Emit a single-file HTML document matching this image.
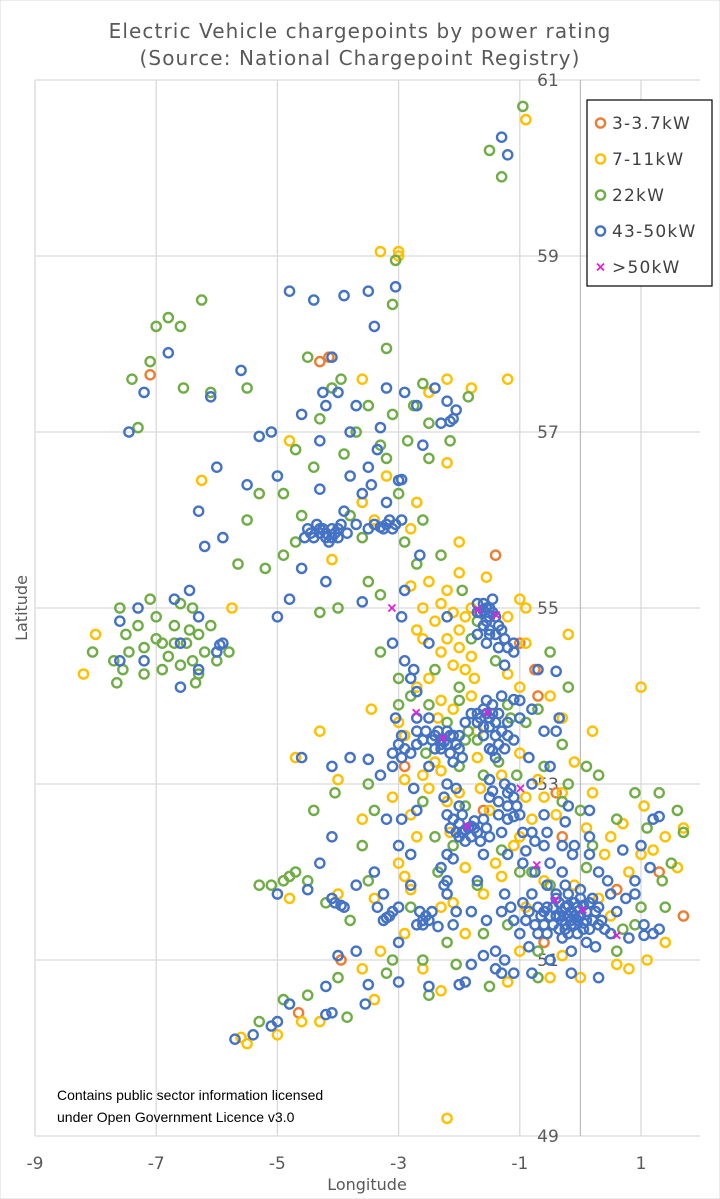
<!DOCTYPE html>
<html><head><meta charset="utf-8"><style>
html,body{margin:0;padding:0;background:#fff;}
svg{display:block;font-family:"DejaVu Sans","Liberation Sans",sans-serif;}
</style></head><body>
<svg id="chart" width="720" height="1199" viewBox="0 0 720 1199">
<rect x="0" y="0" width="720" height="1199" fill="#fff" stroke="#d9d9d9"/>
<text x="360" y="38" text-anchor="middle" font-size="20" letter-spacing="1.1" fill="#595959">Electric Vehicle chargepoints by power rating</text>
<text x="360" y="65" text-anchor="middle" font-size="20" letter-spacing="1.1" fill="#595959">(Source: National Chargepoint Registry)</text>
<g id="grid"></g>
<g id="marks"></g>
<text x="57" y="1100" font-size="14" fill="#000" font-family="Liberation Sans, sans-serif">Contains public sector information licensed</text>
<text x="57" y="1122" font-size="14" fill="#000" font-family="Liberation Sans, sans-serif">under Open Government Licence v3.0</text>
<text x="367" y="1190" text-anchor="middle" font-size="16" fill="#595959">Longitude</text>
<text x="0" y="0" transform="translate(27,608) rotate(-90)" text-anchor="middle" font-size="16" fill="#595959">Latitude</text>
<g>
<rect x="587" y="100" width="125" height="186" fill="#fff" stroke="#000" stroke-width="1.2"/>
<g id="legend"></g>
</g>
</svg>
<script>
const xTicks=[-9,-7,-5,-3,-1,1];
const yTicks=[61,59,57,55,53,51,49];
const seriesNames=["3-3.7kW","7-11kW","22kW","43-50kW",">50kW"];
const seriesColors=["#ED7D31","#FFC000","#70AD47","#4472C4","#E020E0"];
const orangePts=[[-4.15,57.85],[-7.1,57.65],[-1.4,55.6],[-0.75,54.3],[-1.6,52.7],[-0.4,52.9],[0.6,51.8],[1.7,51.5],[-0.6,51.2],[-4.65,50.4],[-3.95,51.0],[-2.9,53.2],[-0.2,51.3],[1.3,52.0],[-4.3,57.8],[-0.7,54.0],[-1.0,54.6],[-0.3,52.4]];
const yellowPts=[[-0.9,60.55],[-3.0,59.05],[-3.3,59.05],[-3.0,59.0],[-6.25,56.45],[-3.6,57.6],[-2.2,57.6],[-2.5,57.45],[-1.8,57.5],[-3.2,56.5],[-3.4,56.0],[-2.8,55.9],[-2.0,55.75],[-2.2,55.2],[-1.9,54.9],[-2.3,54.5],[-1.9,54.3],[-1.0,54.1],[-0.5,54.0],[-0.3,53.75],[0.2,53.6],[1.0,54.1],[-0.7,53.05],[-0.3,52.9],[0.1,52.5],[0.4,52.2],[1.0,52.2],[1.4,52.4],[1.6,52.05],[1.7,52.5],[1.4,51.2],[0.8,50.9],[0.0,50.8],[-0.5,50.8],[-1.2,50.75],[-2.3,50.65],[-3.4,50.55],[-4.3,50.3],[-5.0,50.15],[-5.5,50.05],[-5.6,50.12],[-4.6,50.3],[-3.6,50.9],[-2.9,51.3],[-2.3,51.6],[-2.8,51.8],[-3.4,51.7],[-4.0,51.75],[-4.8,51.7],[-3.0,52.1],[-2.7,52.4],[-3.1,52.85],[-2.9,53.05],[-2.2,52.8],[-1.5,52.7],[-0.8,52.6],[-1.0,52.4],[-1.9,52.05],[-2.6,53.1],[-1.7,53.3],[-3.0,53.7],[-2.7,54.1],[-3.45,53.85],[-4.3,53.6],[-5.75,55.0],[-8.2,54.25],[-8.0,54.7],[-2.2,49.2],[1.1,51.0],[0.5,51.5],[-0.6,51.9],[-1.6,51.75],[-0.9,51.6],[1.05,52.75],[-4.0,53.05],[-1.0,53.35],[-1.3,53.1],[-2.0,54.75],[-2.6,55.0],[-4.1,55.55],[-1.8,55.0],[-2.1,54.95],[-1.2,54.9],[-0.9,54.6],[-2.4,53.25],[-2.0,52.9],[-1.1,52.3],[0.3,51.7],[0.8,52.0],[-1.9,51.3],[-2.6,50.9],[-3.3,51.1],[-1.7,53.6],[-2.3,53.15],[-2.5,54.2],[-4.7,53.3],[-1.2,57.6],[-4.8,56.9],
[-2.4,54.85],[-2.2,54.65],[-2.0,54.55],[-1.8,54.45],[-2.6,54.65],[-2.3,55.05],[-1.75,54.2],[-2.1,54.35],[-1.55,55.35],[-2.0,55.4],[-2.5,55.3],[-2.7,54.75],[-2.8,55.25],[-2.3,53.95],[-2.1,53.85],[-1.8,54.0],[-2.9,53.55],[-2.5,52.95],[-2.15,52.45],[-1.4,52.1],[-0.4,52.65],[-0.1,53.25],[0.2,52.9],[-0.6,52.85],[-1.65,52.95],[-0.9,52.85],[-2.8,52.65],[-1.3,51.95],[-2.1,51.65],[-0.1,51.85],[0.5,52.4],[1.2,52.25],[0.7,52.55],[-1.0,51.1],[-0.3,51.05],[0.6,50.95],[-2.9,51.95],[-3.6,52.6],[-2.35,53.75],[-1.2,54.25],[-0.2,54.7],[-0.9,55.0],[-1.0,55.1],[-2.7,56.2],[-3.6,56.2],[-2.2,56.65]];
const greenPts=[[-7.4,57.6],[-7.0,58.2],[-6.8,58.3],[-6.6,58.2],[-6.25,58.5],[-7.1,57.8],[-7.3,57.05],[-6.55,57.5],[-6.1,57.45],[-3.05,58.95],[-3.1,58.45],[-0.95,60.7],[-1.3,59.9],[-1.5,60.2],[-4.5,57.85],[-5.5,57.5],[-3.95,57.6],[-3.2,57.95],[-4.3,57.15],[-3.5,57.3],[-2.75,57.3],[-2.5,57.1],[-2.15,56.9],[-2.5,56.7],[-3.3,56.85],[-3.9,56.75],[-4.4,56.6],[-4.9,56.3],[-5.3,56.3],[-5.5,56.0],[-4.7,55.75],[-3.8,56.05],[-3.0,56.3],[-2.6,56.0],[-2.3,55.6],[-3.5,55.3],[-4.0,55.0],[-3.3,55.15],[-2.7,55.5],[-4.9,55.6],[-5.2,55.45],[-5.65,55.5],[-4.3,54.95],[-7.6,55.0],[-7.5,54.7],[-7.3,54.8],[-7.1,55.1],[-7.0,54.9],[-6.9,54.6],[-6.7,54.8],[-6.5,54.6],[-6.3,54.7],[-6.2,54.5],[-6.1,54.8],[-6.4,54.4],[-6.6,54.35],[-6.9,54.3],[-7.2,54.25],[-7.45,54.5],[-7.7,54.4],[-8.05,54.5],[-7.65,54.15],[-6.0,54.4],[-6.3,54.25],[-6.8,54.45],[-7.0,54.65],[-6.4,55.0],[-6.6,55.05],[-5.8,54.5],[-7.55,54.3],[-6.7,54.6],[-6.45,54.75],[-7.2,54.55],[-6.35,54.15],[-2.0,54.1],[-2.4,54.3],[-1.8,54.65],[-0.5,54.5],[-0.2,54.1],[-0.9,53.7],[-0.6,53.2],[-0.2,53.0],[0.3,53.1],[0.0,52.7],[0.6,52.6],[0.9,52.9],[1.3,52.9],[1.6,52.7],[1.7,52.45],[1.5,52.1],[1.35,51.9],[1.4,51.6],[0.9,51.4],[0.6,51.1],[-0.7,51.1],[-1.6,51.3],[-2.2,51.2],[-2.6,51.0],[-3.1,51.0],[-4.0,50.8],[-4.5,50.6],[-5.3,50.3],[-2.5,50.6],[-3.8,51.45],[-4.2,51.65],[-4.9,51.9],[-5.1,51.85],[-5.3,51.85],[-4.5,51.9],[-4.7,52.0],[-4.8,51.95],[-3.6,52.3],[-3.4,52.7],[-4.05,52.9],[-4.4,52.7],[-3.5,53.0],[-2.6,52.8],[-2.4,52.4],[-1.3,52.25],[-1.0,52.0],[-1.7,51.85],[-0.3,52.8],[-1.6,53.1],[-2.0,53.2],[-2.5,53.9],[-3.0,53.9],[-1.9,53.5],[-1.2,53.9],[-2.1,52.3],[-0.8,52.0],[0.2,52.3],[1.0,51.6],[-3.5,51.9],[-2.8,51.6],[-1.4,54.4],[-3.7,57.0],
[-2.0,53.95],[-1.85,53.6],[-2.2,53.7],[-1.35,53.25],[-1.7,53.5],[-2.55,53.35],[-1.15,53.75],[-0.7,53.85],[-2.8,54.0],[-3.3,54.5],[-3.0,54.2],[-1.7,54.85],[-1.95,55.2],[-2.9,55.75],[-3.6,55.8],[-4.6,56.05],[-3.2,56.7],[-2.85,56.9],[-3.1,57.2],[-2.6,57.55],[-1.85,57.4],[-4.1,57.5],[-4.7,56.8],[-0.3,53.45],[0.1,53.2],[-1.05,53.1],[-1.9,52.75],[-2.35,52.0],[-1.2,51.4],[-0.5,51.85],[0.1,52.05],[0.7,51.35],[1.1,52.5],[-2.05,50.95],[-3.2,50.85],[-3.85,50.35],[-4.9,50.55],[-1.5,50.7],[-0.7,50.8]];
const bluePts=[[-7.45,57.0],[-7.2,57.45],[-6.8,57.9],[-6.1,57.4],[-5.6,57.7],[-4.8,58.6],[-4.4,58.5],[-3.9,58.55],[-3.5,58.6],[-3.05,58.65],[-3.4,58.2],[-4.1,57.85],[-3.7,57.3],[-3.2,57.5],[-2.9,57.45],[-2.1,57.15],[-2.15,57.12],[-4.25,57.45],[-4.6,57.2],[-5.3,56.95],[-5.5,56.4],[-6.0,56.6],[-6.3,56.1],[-5.1,57.0],[-1.3,60.35],[-1.2,60.15],[-2.4,57.5],[-2.7,57.3],[-3.8,57.0],[-4.3,56.9],[-5.0,56.5],[-5.9,55.8],[-6.2,55.7],[-4.3,55.85],[-4.2,55.85],[-4.1,55.9],[-4.4,55.8],[-4.0,55.8],[-4.5,55.9],[-4.35,55.95],[-4.15,55.75],[-4.25,55.9],[-4.05,55.85],[-3.2,55.95],[-3.1,55.9],[-3.3,55.92],[-3.4,55.95],[-3.15,56.0],[-3.9,56.1],[-3.45,56.4],[-3.0,56.45],[-2.95,56.46],[-3.5,56.6],[-3.2,56.2],[-3.6,56.3],[-4.6,55.45],[-4.2,55.3],[-3.6,55.07],[-5.0,54.9],[-4.8,55.1],[-2.95,54.9],[-1.6,54.97],[-1.55,55.0],[-1.65,54.95],[-1.5,54.9],[-1.7,55.05],[-1.45,55.1],[-1.4,54.9],[-1.3,54.75],[-1.55,54.6],[-1.2,54.55],[-1.25,54.35],[-1.1,54.6],[-0.7,54.3],[-0.4,54.28],[-1.6,54.8],[-1.5,54.75],[-2.9,54.4],[-3.1,54.6],[-2.75,54.3],[-2.7,54.05],[-1.55,53.8],[-1.5,53.75],[-1.6,53.85],[-1.4,53.7],[-1.3,53.6],[-1.45,53.38],[-1.5,53.4],[-1.35,53.45],[-1.1,53.5],[-1.6,53.65],[-1.45,53.9],[-2.25,53.48],[-2.2,53.45],[-2.3,53.5],[-2.1,53.55],[-2.4,53.4],[-2.6,53.5],[-2.9,53.4],[-3.0,53.45],[-2.7,53.75],[-2.5,53.75],[-1.9,53.7],[-1.8,53.8],[-2.0,53.4],[-2.35,53.6],[-2.15,53.35],[-0.35,53.75],[-0.6,53.6],[-1.0,53.95],[-1.1,53.96],[-1.3,54.0],[-0.85,53.3],[-1.9,52.48],[-1.85,52.5],[-2.0,52.55],[-2.1,52.6],[-1.8,52.4],[-1.5,52.4],[-1.95,52.65],[-1.75,52.58],[-1.15,52.95],[-1.2,52.9],[-1.45,52.92],[-1.1,52.63],[-1.2,52.6],[-2.2,52.2],[-2.7,52.7],[-2.2,53.0],[-1.6,52.2],[-0.9,52.24],[-0.25,52.57],[-0.5,52.1],[-0.13,52.2],[-0.6,52.3],[1.3,52.63],[1.2,52.6],[1.15,52.05],[1.0,52.3],[0.7,52.25],[0.5,51.75],[0.9,51.9],[0.3,52.0],[1.2,51.3],[1.3,51.35],[1.05,51.28],[0.5,51.3],[0.1,51.2],[-0.1,51.5],[-0.2,51.5],[0.0,51.5],[-0.3,51.45],[0.1,51.55],[-0.15,51.4],[-0.05,51.6],[-0.25,51.6],[-0.4,51.5],[0.2,51.45],[-0.5,51.5],[-0.6,51.4],[-0.35,51.35],[-0.75,51.4],[-0.9,51.45],[-1.0,51.3],[-0.7,51.6],[-0.4,51.7],[-0.2,51.75],[0.0,51.7],[0.3,51.6],[-0.8,51.75],[-0.1,51.4],[0.05,51.42],[-0.45,51.6],[0.15,51.65],[-0.3,51.55],[-0.55,51.3],[-1.25,51.75],[-1.3,51.55],[-1.8,51.55],[-1.4,51.1],[-1.4,50.9],[-1.1,50.85],[-0.8,50.85],[-0.15,50.85],[0.3,50.8],[-1.9,50.75],[-2.0,50.72],[-2.5,50.7],[-3.0,50.75],[-3.5,50.72],[-3.55,50.5],[-4.1,50.4],[-4.2,50.38],[-5.0,50.3],[-5.1,50.25],[-5.4,50.15],[-5.7,50.1],[-4.8,50.5],[-4.2,50.7],[-4.0,51.05],[-3.7,51.1],[-3.0,51.2],[-2.6,51.45],[-2.55,51.5],[-2.7,51.4],[-2.35,51.38],[-2.1,51.4],[-2.2,51.9],[-2.25,51.85],[-3.2,51.48],[-3.15,51.5],[-3.0,51.6],[-3.95,51.62],[-4.1,51.7],[-4.5,51.8],[-5.0,51.75],[-4.1,52.4],[-3.4,52.0],[-3.2,52.6],[-3.8,53.3],[-4.1,53.2],[-3.5,53.28],[-3.1,53.2],[-4.6,53.3],[-2.8,52.2],[-5.9,54.6],[-5.95,54.58],[-6.0,54.5],[-6.3,54.3],[-6.6,54.6],[-7.3,55.0],[-6.7,55.1],[-6.45,55.2],[-6.3,54.9],[-7.2,54.4],[-7.6,54.4],[-6.6,54.1],[-7.6,54.85],
[-0.05,51.45],[-0.15,51.55],[-0.25,51.4],[0.05,51.35],[-0.45,51.4],[0.25,51.55],[-0.65,51.5],[-0.1,51.65],[0.15,51.35],[-0.35,51.65],[-0.55,51.6],[-0.05,51.3],[0.35,51.45],[-0.2,51.3],[0.2,51.7],[-0.7,51.3],[-0.85,51.55],[-1.1,51.45],[-0.3,51.25],[0.4,51.35],[-0.95,51.65],[-1.15,51.6],[0.0,51.8],[-0.25,51.85],
[-2.3,53.4],[-2.15,53.55],[-2.05,53.45],[-2.45,53.5],[-2.2,53.6],[-2.4,53.55],[-2.55,53.6],[-2.7,53.45],[-2.8,53.35],[-2.95,53.3],[-2.1,53.25],[-1.95,53.3],[-1.65,53.75],[-1.7,53.8],[-1.45,53.8],[-1.35,53.8],[-1.5,53.65],[-1.2,53.7],[-1.6,53.55],[-1.25,53.4],[-1.4,53.3],[-1.55,53.95],
[-1.95,52.45],[-1.8,52.52],[-2.05,52.45],[-1.7,52.45],[-2.15,52.5],[-1.55,52.5],[-1.65,52.35],[-1.9,52.35],[-2.2,52.65],[-2.0,52.75],[-1.3,52.45],[-1.35,52.65],[-1.0,52.65],[-1.2,52.75],[-1.25,53.0],[-1.1,52.85],[-1.5,52.85],[-1.5,53.05],[-2.25,52.85],[-2.05,52.95],[-2.3,52.05],[-2.1,52.15],
[-1.6,55.05],[-1.5,55.0],[-1.7,54.95],[-1.45,54.95],[-1.55,54.85],[-1.35,54.8],[-1.25,54.65],[-1.5,54.7],[-1.35,54.55],[-1.1,54.5],
[-4.3,55.9],[-4.2,55.8],[-4.1,55.8],[-4.45,55.85],[-4.0,55.9],[-3.95,55.95],[-3.85,55.85],[-3.25,55.9],[-3.05,55.95],[-3.5,55.9],[-3.7,55.95],[-4.55,55.8],
[-2.6,51.4],[-2.5,51.45],[-2.65,51.55],[-2.45,51.55],[-3.25,51.45],[-3.1,51.55],[-3.35,51.6],[-3.9,51.6],[-4.05,51.65],
[-0.4,51.75],[-0.55,51.85],[-0.75,52.0],[-0.95,52.1],[-1.2,52.2],[-0.3,52.0],[-0.1,52.3],[0.15,52.2],[0.15,52.4],[-0.3,52.3],[-0.55,52.45],[-0.75,52.35],[0.6,51.55],[0.75,51.7],[0.45,51.9],[0.9,51.75],[1.05,51.4],[0.8,51.25],[0.25,51.15],[-0.15,51.1],[-0.5,51.0],[-0.85,51.15],[-1.25,51.0],[-1.6,51.05],[-1.3,50.85],[-1.8,50.95],[-2.05,51.55],[-1.55,51.45],[-0.8,53.0],[-0.5,53.2],[-0.2,52.75],[0.15,52.7],[-0.6,52.65],[-0.95,52.45],[-1.7,51.9],[-2.2,51.75],[-2.8,51.85],[-1.0,53.75],[-0.8,53.85],[-0.4,53.6],[-2.75,52.95],[-2.95,52.6],[-3.0,52.3],[-3.25,51.75],[-3.7,51.85],[-4.3,52.1],[-3.3,53.1],[-2.5,53.2],[-2.95,53.55],[-3.05,53.75],[-2.8,54.2],[-2.5,54.6],[-2.2,54.9],[-2.9,55.2],[-2.65,55.6],[-2.95,56.0],[-3.8,56.5],[-4.3,56.35],[-3.3,57.05],[-2.2,57.35],[-2.05,57.25],[-2.3,57.1],[-2.6,56.85],[-3.35,56.8],[-4.0,57.45],[-4.2,57.3],
[-0.15,51.45],[-0.35,51.5],[0.1,51.45],[-0.2,51.62],[0.05,51.62],[-0.6,51.55],[-0.25,51.35],[0.3,51.4],[-1.75,52.5],[-2.0,52.4],[-1.6,52.6],[-2.3,53.45],[-2.0,53.55],[-1.4,53.55],[-1.7,53.7],[-1.2,53.55],[-1.05,52.75],[-1.35,52.8],[-0.8,52.45],[-2.7,53.6],[-3.1,53.35],[-1.4,54.7],[-1.7,54.7]];
const magentaPts=[[-3.11,55.0],[-1.69,54.98],[-1.39,54.92],[-1.54,53.81],[-2.71,53.81],[-2.27,53.52],[-0.99,52.95],[-1.87,52.52],[-0.72,52.08],[-0.42,51.68],[0.04,51.57],[0.6,51.28]];
const allSeries=[orangePts,yellowPts,greenPts,bluePts,magentaPts];
const seriesKeys=["orange","yellow","green","blue","magenta"];

const X0=35, XPX=60.6, Y0=80, YPX=88;
function xScale(lon){return X0+(lon-(-9))*XPX;}
function yScale(lat){return Y0+(61-lat)*YPX;}
const NS="http://www.w3.org/2000/svg";
function mk(tag,attrs,parent){const e=document.createElementNS(NS,tag);for(const k in attrs)e.setAttribute(k,attrs[k]);parent.appendChild(e);return e;}

const grid=document.getElementById('grid');
yTicks.forEach(v=>{
  const l=mk('line',{x1:35,x2:700,y1:yScale(v),y2:yScale(v),stroke:'#d9d9d9','stroke-width':1.3},grid);
  
  
  const t=mk('text',{x:548,y:yScale(v)+6,'text-anchor':'middle','font-size':17,fill:'#595959'},grid);
  t.textContent=String(v);
  
  
});
xTicks.forEach(v=>{
  const l=mk('line',{x1:xScale(v),x2:xScale(v),y1:80,y2:1136,stroke:'#d9d9d9','stroke-width':1.3},grid);
  
  
  const t=mk('text',{x:xScale(v),y:1169,'text-anchor':'middle','font-size':17,fill:'#595959'},grid);
  t.textContent=String(v);
  
  
});
const ax=mk('line',{x1:xScale(0),x2:xScale(0),y1:80,y2:1136,stroke:'#bfbfbf','stroke-width':1.3},grid);



const marks=document.getElementById('marks');
allSeries.forEach((pts,si)=>{
  const g=mk('g',{},marks);
  
  
  pts.forEach(p=>{
    const cx=xScale(p[0]), cy=yScale(p[1]);
    let e;
    if(si===4){
      e=mk('path',{d:`M${cx-3.5},${cy-3.5}L${cx+3.5},${cy+3.5}M${cx-3.5},${cy+3.5}L${cx+3.5},${cy-3.5}`,stroke:seriesColors[si],'stroke-width':1.8,fill:'none'},g);
    } else {
      e=mk('circle',{cx:cx,cy:cy,r:4.6,fill:'none',stroke:seriesColors[si],'stroke-width':2.4},g);
    }
    
    
  });
});

const leg=document.getElementById('legend');
seriesNames.forEach((n,i)=>{
  const y=123+i*36;
  let m;
  if(i===4){
    m=mk('path',{d:`M597,${y-3.5}L604,${y+3.5}M597,${y+3.5}L604,${y-3.5}`,stroke:seriesColors[i],'stroke-width':1.8},leg);
  } else {
    m=mk('circle',{cx:600.5,cy:y,r:4.6,fill:'none',stroke:seriesColors[i],'stroke-width':2.4},leg);
  }
  
  
  const t=mk('text',{x:612,y:y+6,'font-size':17,'letter-spacing':'1.2',fill:'#404040'},leg);
  t.textContent=n;
  
  
});
</script>
</body></html>
